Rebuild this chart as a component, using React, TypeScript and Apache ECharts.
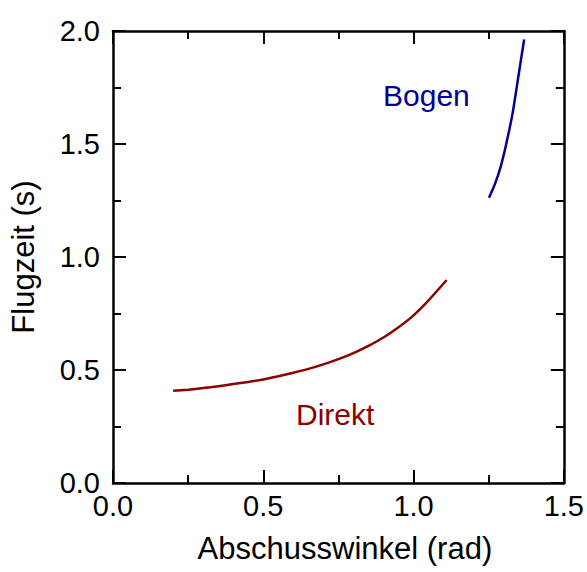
import React, { useEffect, useRef } from "react";
import * as echarts from "echarts";

// Data
const direktAngles = [0.2, 0.25, 0.3, 0.35, 0.4, 0.45, 0.5, 0.55, 0.6, 0.65, 0.7, 0.75, 0.8, 0.85, 0.9, 0.95, 1.0, 1.05, 1.11];
const direktTimes = [0.408, 0.413, 0.42, 0.428, 0.438, 0.447, 0.458, 0.472, 0.488, 0.505, 0.525, 0.548, 0.575, 0.607, 0.644, 0.689, 0.742, 0.808, 0.898];
const bogenAngles = [1.251, 1.27, 1.29, 1.31, 1.33, 1.35, 1.368];
const bogenTimes = [1.262, 1.32, 1.40, 1.51, 1.64, 1.81, 1.963];

const xRange = [0, 1.5];
const xStep = 0.5;
const yRange = [0, 2.0];
const yStep = 0.5;

const xTitle = "Abschusswinkel (rad)";
const yTitle = "Flugzeit (s)";
const labelBogen = "Bogen";
const labelDirekt = "Direkt";

const FONT = "'Liberation Sans', Arial, Helvetica, sans-serif";
const RED = "#8c0000";
const BLUE = "#000096";

export default function App() {
  const ref = useRef<HTMLDivElement>(null);

  useEffect(() => {
    if (!ref.current) return;
    const chart = echarts.init(ref.current, undefined, { renderer: "svg" });

    const axisCommon = (show: boolean) => ({
      type: "value" as const,
      axisLine: { show: true, onZero: false, lineStyle: { color: "#000", width: 2.5 } },
      axisTick: { show: true, inside: true, length: 13, lineStyle: { color: "#000", width: 2 } },
      minorTick: { show: true, splitNumber: 2, length: 8, lineStyle: { color: "#000", width: 2 } },
      splitLine: { show: false },
      axisLabel: { show },
    });

    const grid = { left: 112, top: 31, width: 452, height: 452 };

    chart.setOption({
      animation: false,
      backgroundColor: "#fff",
      grid,
      xAxis: [
        {
          ...axisCommon(true),
          position: "bottom",
          min: xRange[0],
          max: xRange[1],
          interval: xStep,
          axisLabel: {
            show: true,
            margin: 8,
            fontSize: 29,
            color: "#000",
            fontFamily: FONT,
            formatter: (v: number) => v.toFixed(1),
          },
          name: xTitle,
          nameLocation: "middle",
          nameGap: 50,
          nameTextStyle: { fontSize: 31, color: "#000", fontFamily: FONT, padding: [0, 0, 0, 13] },
        },
        {
          ...axisCommon(false),
          position: "top",
          min: xRange[0],
          max: xRange[1],
          interval: xStep,
        },
      ],
      yAxis: [
        {
          ...axisCommon(true),
          position: "left",
          min: yRange[0],
          max: yRange[1],
          interval: yStep,
          axisLabel: {
            show: true,
            margin: 13,
            fontSize: 29,
            color: "#000",
            fontFamily: FONT,
            padding: [0, 0, 6, 0],
            formatter: (v: number) => v.toFixed(1),
          },
          name: yTitle,
          nameLocation: "middle",
          nameRotate: 90,
          nameGap: 74,
          nameTextStyle: { fontSize: 31, color: "#000", fontFamily: FONT },
        },
        {
          ...axisCommon(false),
          position: "right",
          min: yRange[0],
          max: yRange[1],
          interval: yStep,
        },
      ],
      series: [
        {
          name: labelDirekt,
          type: "line",
          xAxisIndex: 0,
          yAxisIndex: 0,
          showSymbol: false,
          smooth: 0.2,
          lineStyle: { color: RED, width: 2.5 },
          data: direktAngles.map((a, i) => [a, direktTimes[i]]),
        },
        {
          name: labelBogen,
          type: "line",
          xAxisIndex: 0,
          yAxisIndex: 0,
          showSymbol: false,
          smooth: 0.2,
          lineStyle: { color: BLUE, width: 2.5 },
          data: bogenAngles.map((a, i) => [a, bogenTimes[i]]),
        },
      ],
      graphic: [
        {
          type: "text",
          left: 383,
          top: 80,
          style: { text: labelBogen, fill: BLUE, font: `30px ${FONT}` },
        },
        {
          type: "text",
          left: 296,
          top: 399,
          style: { text: labelDirekt, fill: RED, font: `30px ${FONT}` },
        },
      ],
    });

    return () => chart.dispose();
  }, []);

  return (
    <div
      ref={ref}
      style={{ position: "absolute", left: 0, top: 0, width: 587, height: 572, background: "#fff" }}
    />
  );
}
